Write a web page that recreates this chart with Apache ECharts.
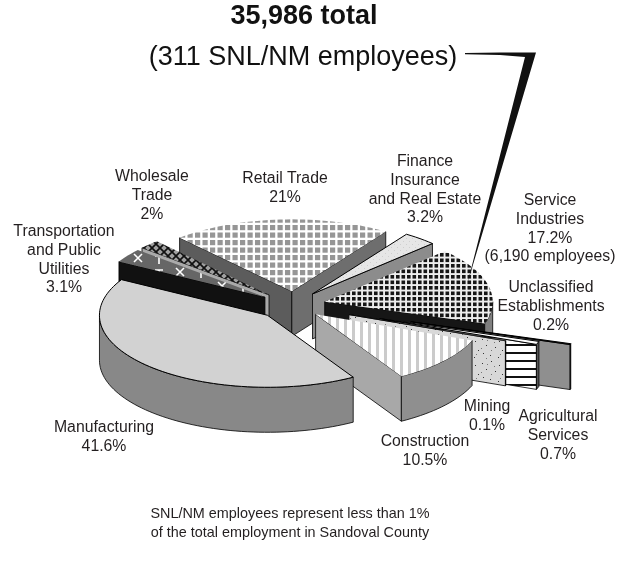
<!DOCTYPE html>
<html>
<head>
<meta charset="utf-8">
<title>Sandoval County employment</title>
<script src="https://cdn.jsdelivr.net/npm/echarts@6/dist/echarts.min.js"></script>
<style>
  html, body { margin: 0; background: #fff; }
  #chart { width: 621px; height: 576px; }
</style>
</head>
<body>
<div id="chart"></div>
<script>
// clockwise from the back of the pie
const categories = ["Retail Trade", "Finance, Insurance and Real Estate", "Service Industries", "Unclassified Establishments", "Agricultural Services", "Mining", "Construction", "Manufacturing", "Transportation and Public Utilities", "Wholesale Trade"];
const shares = [21, 3.2, 17.2, 0.2, 0.7, 0.1, 10.5, 41.6, 3.1, 2];

const titleBold = "35,986 total";
const titleSub = "(311 SNL/NM employees)";
const footer = ["SNL/NM employees represent less than 1%", "of the total employment in Sandoval County"];

// pie geometry
const cx = 291, cy = 305, rx = 168, ry = 72, wall = 45, startAngle = -41.9;
const explode = [0.19, 0.2, 0.2, 0.75, 0.56, 0.37, 0.2, 0.2, 0.19, 0.2];
const nudgeX = [3, 0, 1, 0, 0, 0, -1, 0, 0, 2];

function patternCanvas(w, h, draw) {
  const c = document.createElement("canvas");
  c.width = w; c.height = h;
  draw(c.getContext("2d"));
  return { image: c, repeat: "repeat" };
}
const fills = {
  retail: patternCanvas(15, 15, g => {
    g.fillStyle = "#fff"; g.fillRect(0, 0, 15, 15);
    g.fillStyle = "#969696";
    [0, 7.5].forEach(x => [0, 7.5].forEach(y => g.fillRect(x, y, 5.2, 5.2)));
  }),
  finance: patternCanvas(6, 6, g => {
    g.fillStyle = "#e6e6e6"; g.fillRect(0, 0, 6, 6);
    g.fillStyle = "#cfcfcf"; g.fillRect(1, 1, 1, 1); g.fillRect(4, 4, 1, 1);
  }),
  service: patternCanvas(11, 11, g => {
    g.fillStyle = "#eee"; g.fillRect(0, 0, 11, 11);
    g.fillStyle = "#161616";
    [0, 5.5].forEach(x => [0, 5.5].forEach(y => g.fillRect(x, y, 3.6, 3.6)));
  }),
  construction: patternCanvas(8, 8, g => {
    g.fillStyle = "#fff"; g.fillRect(0, 0, 8, 8);
    g.fillStyle = "#cbcbcb"; g.fillRect(0, 0, 3, 8);
  }),
  mining: patternCanvas(24, 24, g => {
    g.fillStyle = "#d8d8d8"; g.fillRect(0, 0, 24, 24);
    g.fillStyle = "#333";
    [[2, 3], [11, 1], [19, 5], [6, 9], [15, 11], [22, 14], [3, 17], [10, 19], [18, 21]].forEach(p => g.fillRect(p[0], p[1], 1, 1));
    g.fillStyle = "#777";
    [[7, 4], [14, 6], [1, 12], [11, 14], [20, 18], [6, 22]].forEach(p => g.fillRect(p[0], p[1], 1, 1));
  }),
  agri: patternCanvas(8, 8, g => {
    g.fillStyle = "#fff"; g.fillRect(0, 0, 8, 8);
    g.fillStyle = "#111"; g.fillRect(0, 0, 8, 2);
  }),
  transport: patternCanvas(42, 14, g => {
    g.fillStyle = "#666"; g.fillRect(0, 0, 42, 14);
    g.strokeStyle = "#fff"; g.lineWidth = 1.6;
    g.beginPath();
    g.moveTo(8, 2); g.lineTo(16, 10); g.moveTo(16, 2); g.lineTo(8, 10);
    g.moveTo(29, 4); g.lineTo(37, 4); g.moveTo(33, 4); g.lineTo(33, 12);
    g.stroke();
  }),
  wholesale: patternCanvas(8, 8, g => {
    g.fillStyle = "#a0a0a0"; g.fillRect(0, 0, 8, 8);
    g.strokeStyle = "#111"; g.lineWidth = 1.7;
    g.beginPath();
    g.moveTo(0, 0); g.lineTo(8, 8); g.moveTo(8, 0); g.lineTo(0, 8);
    g.stroke();
  })
};

// top, start cut, end cut, rim wall, outline on top
const faces = [
  { top: fills.retail, start: "#5c5c5c", end: "#6e6e6e", rim: "#777", line: 0 },
  { top: fills.finance, start: "#999", end: "#8c8c8c", rim: "#8c8c8c", line: 1 },
  { top: fills.service, start: "#111", end: "#161616", rim: "#808080", line: 0 },
  { top: "#222", start: "#999", end: "#8f8f8f", rim: "#333", line: 1 },
  { top: "#fff", start: "#999", end: fills.agri, rim: "#555", line: 1 },
  { top: "#ccc", start: "#999", end: fills.mining, rim: "#888", line: 0.5 },
  { top: fills.construction, start: "#999", end: "#a8a8a8", rim: "#8f8f8f", line: 0 },
  { top: "#d2d2d2", start: "#888", end: "#888", rim: "#888", line: 1 },
  { top: fills.transport, start: "#111", end: "#111", rim: "#555", line: 0 },
  { top: fills.wholesale, start: "#aaa", end: "#aaa", rim: "#555", line: 0 }
];

const sum = shares.reduce((a, b) => a + b, 0);
let angle = startAngle;
const rows = shares.map((v, i) => {
  const t0 = angle;
  angle += v / sum * 360;
  return [t0, angle, i];
});
// paint from back to front
const order = rows.slice().sort((a, b) => {
  const depth = r => -Math.cos((r[0] + r[1]) / 2 * Math.PI / 180);
  return depth(a) - depth(b);
});

function renderSlice(params, api) {
  const t0 = api.value(0), t1 = api.value(1), i = api.value(2);
  const rad = Math.PI / 180, f = faces[i], mid = (t0 + t1) / 2 * rad;
  const ax = cx + nudgeX[i] + explode[i] * rx * Math.sin(mid);
  const ay = cy - explode[i] * ry * Math.cos(mid);
  const rimPoint = t => [ax + rx * Math.sin(t * rad), ay - ry * Math.cos(t * rad)];
  const down = p => [p[0], p[1] + wall];
  const arc = (a, b) => {
    const pts = [], n = Math.max(2, Math.ceil((b - a) / 2));
    for (let k = 0; k <= n; k++) pts.push(rimPoint(a + (b - a) * k / n));
    return pts;
  };
  const px = p => api.coord(p);
  const poly = (pts, fill, lw) => ({
    type: "polygon",
    shape: { points: pts.map(px) },
    style: { fill: fill, stroke: lw ? "#000" : null, lineWidth: lw || 0, lineJoin: "round" }
  });
  const children = [];
  const apex = [ax, ay];
  if (Math.sin(t0 * rad) < 0) {
    const p = rimPoint(t0);
    children.push(poly([apex, p, down(p), down(apex)], f.start, 0.8));
  }
  if (Math.sin(t1 * rad) > 0) {
    const p = rimPoint(t1);
    children.push(poly([apex, p, down(p), down(apex)], f.end, 0.8));
  }
  // outer wall, only where the rim faces the viewer
  const w0 = Math.max(t0, 90), w1 = Math.min(t1, 270);
  if (w1 > w0) {
    const top = arc(w0, w1);
    children.push(poly(top.concat(top.slice().reverse().map(down)), f.rim, 0.8));
  }
  children.push(poly([apex].concat(arc(t0, t1)), f.top, f.line));
  return { type: "group", children: children };
}

function label(lines, x, y, size, step) {
  return lines.map((t, k) => ({
    type: "text",
    x: x,
    y: y + k * (step || 18.7),
    style: { text: t, fill: "#231f20", font: (size || 15.8) + 'px "Liberation Sans"', textAlign: "center", textVerticalAlign: "middle" }
  }));
}

const chart = echarts.init(document.getElementById("chart"));
chart.setOption({
  animation: false,
  grid: { left: 0, right: 0, top: 0, bottom: 0 },
  xAxis: { type: "value", min: 0, max: 621, show: false },
  yAxis: { type: "value", min: 0, max: 576, inverse: true, show: false },
  series: [{
    type: "custom",
    name: "Employment",
    renderItem: renderSlice,
    data: order,
    silent: true,
    clip: false
  }],
  graphic: [
    { type: "text", x: 304, y: 17, style: { text: titleBold, fill: "#111", font: 'bold 27px "Liberation Sans"', textAlign: "center", textVerticalAlign: "middle" } },
    { type: "text", x: 303, y: 58, style: { text: titleSub, fill: "#111", font: '27px "Liberation Sans"', textAlign: "center", textVerticalAlign: "middle" } },
    // leader from the subtitle down into the Service slice
    { type: "polygon", z: 10, shape: { points: [[465, 53], [500, 52.5], [536, 52.5], [467, 285], [525, 57], [500, 55], [465, 54.2]] }, style: { fill: "#111" } },
    ...label(["Wholesale", "Trade", "2%"], 152, 177),
    ...label(["Retail Trade", "21%"], 285, 179),
    ...label(["Finance", "Insurance", "and Real Estate", "3.2%"], 425, 162),
    ...label(["Service", "Industries", "17.2%", "(6,190 employees)"], 550, 201),
    ...label(["Unclassified", "Establishments", "0.2%"], 551, 288),
    ...label(["Transportation", "and Public", "Utilities", "3.1%"], 64, 232),
    ...label(["Manufacturing", "41.6%"], 104, 428),
    ...label(["Construction", "10.5%"], 425, 442),
    ...label(["Mining", "0.1%"], 487, 407),
    ...label(["Agricultural", "Services", "0.7%"], 558, 417),
    ...label(footer, 290, 514, 14.4, 19.5)
  ]
});
</script>
</body>
</html>
